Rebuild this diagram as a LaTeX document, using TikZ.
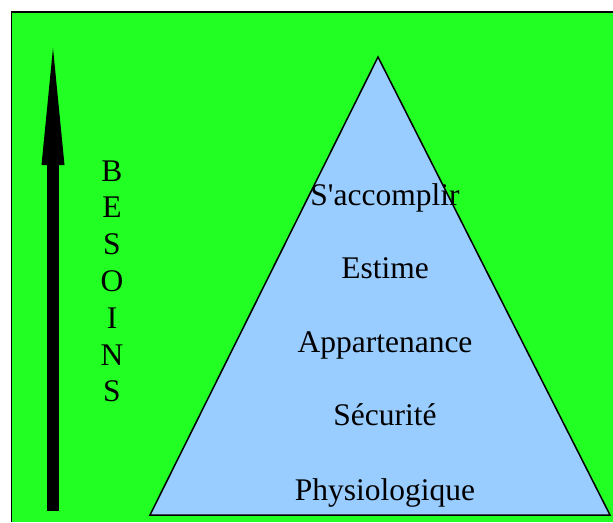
\documentclass[tikz,border=0pt]{standalone}
\usepackage{fontspec}
\setmainfont{Liberation Serif}[Ligatures=TeXOff]
\usetikzlibrary{arrows.meta}

\definecolor{besoingreen}{RGB}{34,255,34}
\definecolor{pyramidblue}{RGB}{153,204,255}

\tikzset{
  level/.style={anchor=base, font=\fontsize{31.5}{36}\selectfont, inner sep=0pt},
  letter/.style={anchor=base, font=\fontsize{31.5}{36}\selectfont, inner sep=0pt},
  pyramid/.style={fill=pyramidblue, draw=black, line width=1.5pt, line join=miter},
  besoinarrow/.style={line width=12pt, -{Triangle[length=117pt, width=23pt, line width=0pt]}}
}

\begin{document}
\begin{tikzpicture}[x=1pt, y=-1pt]
        \useasboundingbox (0,0) rectangle (613,522);

        % fond et cadre
        \fill[besoingreen] (11.5,12) rectangle (613,522);
        \draw[line width=1.6pt] (11.5,522) -- (11.5,12) -- (613,12);

        % pyramide
        \coordinate (apex) at (378,57);
        \coordinate (baseL) at (150,515);
        \coordinate (baseR) at (610,515);
        \draw[pyramid] (apex) -- (baseR) -- (baseL) -- cycle;

        \node [level] (acc) at (385,205) {S'accomplir};
        \node [level] (est) at (385,278) {Estime};
        \node [level] (app) at (385,352) {Appartenance};
        \node [level] (sec) at (385,425) {Sécurité};
        \node [level] (phy) at (385,500) {Physiologique};

        % fleche des besoins
        \coordinate (low) at (53,511);
        \coordinate (high) at (53,48);
        \draw[besoinarrow] (low) -- (high);

        \foreach \l [count=\i from 0] in {B,E,S,O,I,N,S}
          \node [letter] (b\i) at (112,181+36.8*\i) {\l};
      \end{tikzpicture}
\end{document}
